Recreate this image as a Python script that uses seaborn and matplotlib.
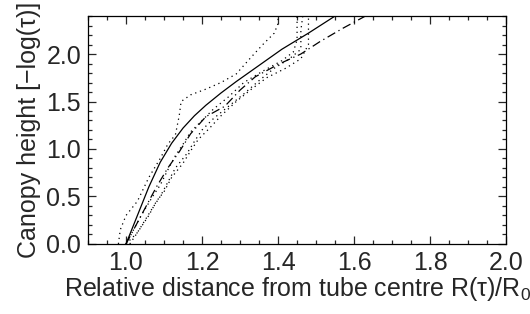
import numpy as np
import pandas as pd
import matplotlib
matplotlib.use("Agg")
import matplotlib.pyplot as plt
import seaborn as sns
from matplotlib.ticker import MultipleLocator

# ---- data ----
solid_x = [1.00, 1.03, 1.06, 1.09, 1.12, 1.15, 1.18, 1.21, 1.25, 1.29, 1.35, 1.41, 1.48, 1.55]
solid_y = [0.00, 0.30, 0.60, 0.86, 1.06, 1.22, 1.35, 1.46, 1.59, 1.71, 1.88, 2.05, 2.22, 2.40]

dashdot_x = [1.00, 1.04, 1.08, 1.11, 1.14, 1.17, 1.21, 1.26, 1.30, 1.34, 1.40, 1.46, 1.51, 1.57, 1.63]
dashdot_y = [0.00, 0.30, 0.60, 0.80, 0.97, 1.16, 1.34, 1.45, 1.62, 1.76, 1.89, 2.00, 2.13, 2.27, 2.40]

dot1_x = [0.98, 0.985, 1.00, 1.03, 1.06, 1.09, 1.11, 1.13, 1.14, 1.145, 1.17, 1.21, 1.25, 1.29, 1.33, 1.36, 1.39, 1.40, 1.40]
dot1_y = [0.00, 0.15, 0.30, 0.45, 0.70, 0.90, 1.05, 1.15, 1.35, 1.50, 1.57, 1.63, 1.70, 1.79, 1.97, 2.10, 2.22, 2.32, 2.40]

dot2_x = [1.00, 1.02, 1.04, 1.055, 1.07, 1.09, 1.11, 1.13, 1.15, 1.17, 1.20, 1.23, 1.27, 1.31, 1.36, 1.41, 1.44, 1.45, 1.45]
dot2_y = [0.00, 0.15, 0.30, 0.40, 0.50, 0.62, 0.78, 0.93, 1.05, 1.18, 1.30, 1.42, 1.55, 1.70, 1.82, 1.93, 2.02, 2.15, 2.40]

dot3_x = [1.01, 1.03, 1.05, 1.07, 1.09, 1.11, 1.13, 1.16, 1.18, 1.20, 1.23, 1.27, 1.31, 1.35, 1.39, 1.43, 1.46, 1.46, 1.465]
dot3_y = [0.00, 0.12, 0.25, 0.38, 0.50, 0.65, 0.80, 0.95, 1.08, 1.20, 1.32, 1.45, 1.58, 1.72, 1.85, 1.95, 2.05, 2.25, 2.40]

dot4_x = [1.00, 1.03, 1.06, 1.08, 1.10, 1.12, 1.15, 1.17, 1.19, 1.22, 1.25, 1.29, 1.33, 1.37, 1.42, 1.46, 1.48, 1.48]
dot4_y = [0.00, 0.12, 0.30, 0.45, 0.55, 0.70, 0.85, 0.98, 1.10, 1.22, 1.35, 1.50, 1.63, 1.75, 1.85, 1.95, 2.10, 2.40]

x_ticks = [1.0, 1.2, 1.4, 1.6, 1.8, 2.0]
y_ticks = [0.0, 0.5, 1.0, 1.5, 2.0]

# ---- style ----
sns.set_style("ticks")
plt.rcParams['font.family'] = ['Liberation Sans', 'DejaVu Sans']
plt.rcParams['mathtext.fontset'] = 'custom'
plt.rcParams['mathtext.rm'] = 'Liberation Sans'
plt.rcParams['mathtext.it'] = 'Liberation Sans'

fig = plt.figure(figsize=(5.30, 3.14), dpi=100)
ax = fig.add_axes([0.166, 0.223, 0.789, 0.726])

series = [
    (solid_x, solid_y, "-"),
    (dashdot_x, dashdot_y, (0, (7, 3, 1, 3))),
    (dot1_x, dot1_y, (0, (1, 3))),
    (dot2_x, dot2_y, (0, (1, 3))),
    (dot3_x, dot3_y, (0, (1, 3))),
    (dot4_x, dot4_y, (0, (1, 3))),
]

for xs, ys, ls in series:
    df = pd.DataFrame({"x": xs, "y": ys})
    sns.lineplot(data=df, x="x", y="y", sort=False, estimator=None,
                 color="black", linewidth=0.9, linestyle=ls, ax=ax)

ax.set_xlim(0.9, 2.0)
ax.set_ylim(0.0, 2.4)
ax.set_xticks(x_ticks)
ax.set_yticks(y_ticks)
ax.set_xticklabels([f"{v:.1f}" for v in x_ticks])
ax.set_yticklabels([f"{v:.1f}" for v in y_ticks])
ax.xaxis.set_minor_locator(MultipleLocator(0.05))
ax.yaxis.set_minor_locator(MultipleLocator(0.1))
ax.tick_params(which="both", direction="in", top=True, right=True,
               width=0.9, labelsize=18, pad=5)
ax.tick_params(which="major", length=6)
ax.tick_params(which="minor", length=3)
for sp in ax.spines.values():
    sp.set_linewidth(0.9)
    sp.set_color("black")

ax.set_xlabel("Relative distance from tube centre R(τ)/R$_0$", fontsize=18, labelpad=0)
ax.set_ylabel("Canopy height [−log(τ)]", fontsize=18, labelpad=4)

fig.savefig("out.png", dpi=100)
